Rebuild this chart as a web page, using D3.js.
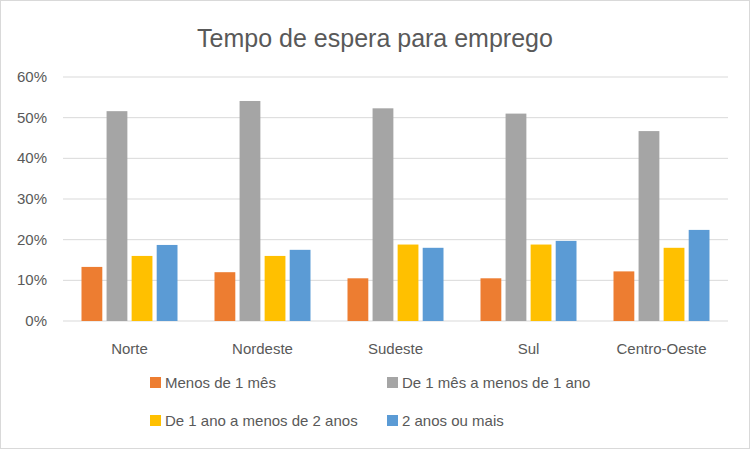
<!DOCTYPE html>
<html><head><meta charset="utf-8">
<script src="https://cdn.jsdelivr.net/npm/d3@7"></script>
<style>body{margin:0;background:#fff}svg{font-family:"Liberation Sans",Arial,sans-serif}</style>
</head><body>
<script>
var regions = ["Norte","Nordeste","Sudeste","Sul","Centro-Oeste"]
var seriesNames = ["Menos de 1 mês","De 1 mês a menos de 1 ano","De 1 ano a menos de 2 anos","2 anos ou mais"]
var colors = ["#ed7d31","#a5a5a5","#ffc000","#5b9bd5"]
var menos1mes = [13.3,12.0,10.5,10.5,12.2]
var mes1ano = [51.6,54.1,52.3,51.0,46.7]
var ano1a2 = [16.0,16.0,18.8,18.8,18.0]
var anos2mais = [18.7,17.5,18.0,19.7,22.4]
var yTicks = [0,10,20,30,40,50,60]

var series = [menos1mes, mes1ano, ano1a2, anos2mais]

var svg = d3.select("body").append("svg")
  .attr('width', 750)
  .attr('height', 449)

svg.append("rect").attr('x',0.5).attr('y',0.5).attr('width',749).attr('height',448)
  .attr('fill','#fff').attr('stroke','#d9d9d9')

svg.append("text").attr('x',375).attr('y',47).attr('text-anchor','middle')
  .attr('font-size',25).attr('fill','#595959').text("Tempo de espera para emprego")

var x = d3.scaleBand().domain(regions).range([63,728])
var x1 = d3.scaleBand().domain(d3.range(4)).range([0,96]).paddingInner(0.17)
var y = d3.scaleLinear().domain([0,60]).range([321,77])

svg.selectAll(".grid").data(yTicks).enter().append("line")
  .attr('x1',63).attr('x2',728)
  .attr('y1',function(d){return y(d)}).attr('y2',function(d){return y(d)})
  .attr('stroke','#d9d9d9')

svg.selectAll(".ylab").data(yTicks).enter().append("text")
  .attr('x',47).attr('y',function(d){return y(d)+5})
  .attr('text-anchor','end').attr('font-size',15).attr('fill','#595959')
  .text(function(d){return d+"%"})

series.forEach(function(s,k){
  svg.selectAll(".b"+k).data(s).enter().append("rect")
    .attr('x',function(d,i){return x(regions[i]) + x.bandwidth()/2 - 48 + x1(k)})
    .attr('width',x1.bandwidth())
    .attr('y',function(d){return y(d)})
    .attr('height',function(d){return y(0)-y(d)})
    .attr('fill',colors[k])
})

svg.selectAll(".xlab").data(regions).enter().append("text")
  .attr('x',function(d){return x(d)+x.bandwidth()/2}).attr('y',354)
  .attr('text-anchor','middle').attr('font-size',15).attr('fill','#595959')
  .text(function(d){return d})

var legPos = [[150,383],[387,383],[150,421],[387,421]]
seriesNames.forEach(function(n,k){
  svg.append("rect").attr('x',legPos[k][0]).attr('y',legPos[k][1]-6)
    .attr('width',11).attr('height',11).attr('fill',colors[k])
  svg.append("text").attr('x',legPos[k][0]+15).attr('y',legPos[k][1]+5)
    .attr('font-size',15).attr('fill','#595959').text(n)
})
</script>
</body></html>
